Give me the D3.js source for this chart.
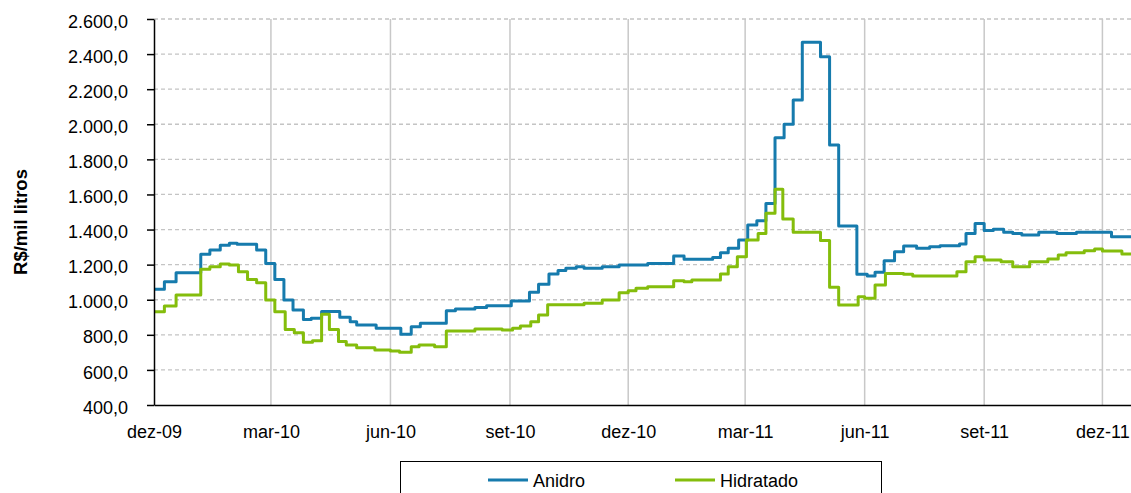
<!DOCTYPE html>
<html lang="pt">
<head>
<meta charset="UTF-8">
<title>Anidro x Hidratado</title>
<script src="https://d3js.org/d3.v7.min.js"></script>
<style>
  body { margin: 0; background: #fff; }
  svg { display: block; font-family: "Liberation Sans", Arial, sans-serif; }
  .tick text { font-size: 18px; fill: #000; }
</style>
</head>
<body>
<svg width="1131" height="493"></svg>
<script>
// step changes: [date, R$/mil litros]
const anidro = [
  ["2009-12-01", 1060], ["2009-12-09", 1103], ["2009-12-18", 1154], ["2010-01-06", 1259],
  ["2010-01-13", 1283], ["2010-01-21", 1310], ["2010-01-28", 1322], ["2010-02-03", 1316],
  ["2010-02-18", 1283], ["2010-02-25", 1207], ["2010-03-04", 1116], ["2010-03-11", 998],
  ["2010-03-18", 941], ["2010-03-26", 888], ["2010-04-01", 894], ["2010-04-09", 933],
  ["2010-04-23", 900], ["2010-05-01", 875], ["2010-05-06", 856], ["2010-05-21", 837],
  ["2010-06-09", 803], ["2010-06-17", 846], ["2010-06-24", 866], ["2010-07-14", 937],
  ["2010-07-21", 947], ["2010-08-05", 955], ["2010-08-14", 966], ["2010-09-02", 993],
  ["2010-09-16", 1042], ["2010-09-23", 1088], ["2010-10-01", 1147], ["2010-10-08", 1167],
  ["2010-10-14", 1179], ["2010-10-22", 1188], ["2010-10-28", 1179], ["2010-11-11", 1188],
  ["2010-11-24", 1198], ["2010-12-16", 1207], ["2011-01-05", 1249], ["2011-01-13", 1230],
  ["2011-02-04", 1240], ["2011-02-10", 1268], ["2011-02-16", 1293], ["2011-02-24", 1340],
  ["2011-03-03", 1426], ["2011-03-10", 1450], ["2011-03-17", 1549], ["2011-03-24", 1923],
  ["2011-03-31", 2000], ["2011-04-07", 2138], ["2011-04-14", 2467], ["2011-04-28", 2385],
  ["2011-05-05", 1882], ["2011-05-12", 1420], ["2011-05-26", 1145], ["2011-06-03", 1135],
  ["2011-06-09", 1156], ["2011-06-16", 1222], ["2011-06-24", 1274], ["2011-07-01", 1306],
  ["2011-07-11", 1293], ["2011-07-21", 1302], ["2011-07-29", 1308], ["2011-08-13", 1318],
  ["2011-08-18", 1378], ["2011-08-25", 1435], ["2011-09-01", 1394], ["2011-09-08", 1401],
  ["2011-09-16", 1384], ["2011-09-23", 1378], ["2011-09-30", 1369], ["2011-10-13", 1384],
  ["2011-10-27", 1378], ["2011-11-11", 1384], ["2011-12-08", 1359], ["2011-12-23", 1355]
];

const hidratado = [
  ["2009-12-01", 932], ["2009-12-09", 964], ["2009-12-18", 1027], ["2010-01-06", 1173],
  ["2010-01-13", 1188], ["2010-01-21", 1204], ["2010-01-28", 1198], ["2010-02-04", 1160],
  ["2010-02-11", 1116], ["2010-02-18", 1097], ["2010-02-25", 998], ["2010-03-04", 932],
  ["2010-03-12", 831], ["2010-03-19", 812], ["2010-03-26", 757], ["2010-04-02", 766],
  ["2010-04-09", 917], ["2010-04-15", 831], ["2010-04-22", 762], ["2010-04-28", 742],
  ["2010-05-06", 727], ["2010-05-20", 713], ["2010-06-01", 708], ["2010-06-08", 700],
  ["2010-06-17", 732], ["2010-06-23", 742], ["2010-07-05", 732], ["2010-07-14", 822],
  ["2010-08-05", 833], ["2010-08-26", 827], ["2010-09-03", 837], ["2010-09-09", 850],
  ["2010-09-17", 875], ["2010-09-23", 913], ["2010-09-30", 972], ["2010-10-28", 980],
  ["2010-11-11", 998], ["2010-11-24", 1040], ["2010-12-01", 1051], ["2010-12-07", 1065],
  ["2010-12-16", 1074], ["2011-01-05", 1108], ["2011-01-13", 1103], ["2011-01-19", 1112],
  ["2011-02-10", 1147], ["2011-02-16", 1188], ["2011-02-23", 1245], ["2011-03-02", 1340],
  ["2011-03-11", 1378], ["2011-03-17", 1493], ["2011-03-24", 1629], ["2011-03-30", 1460],
  ["2011-04-07", 1384], ["2011-04-28", 1337], ["2011-05-05", 1071], ["2011-05-12", 970],
  ["2011-05-27", 1017], ["2011-06-01", 1008], ["2011-06-09", 1084], ["2011-06-17", 1150],
  ["2011-07-01", 1145], ["2011-07-08", 1135], ["2011-08-11", 1160], ["2011-08-18", 1217],
  ["2011-08-25", 1245], ["2011-09-01", 1226], ["2011-09-14", 1217], ["2011-09-23", 1188],
  ["2011-10-06", 1217], ["2011-10-20", 1232], ["2011-10-28", 1255], ["2011-11-03", 1268],
  ["2011-11-17", 1279], ["2011-11-25", 1289], ["2011-12-01", 1278], ["2011-12-16", 1260],
  ["2011-12-23", 1260]
];

const tickDates = ["2009-12-01", "2010-03-01", "2010-06-01", "2010-09-01", "2010-12-01",
                   "2011-03-01", "2011-06-01", "2011-09-01", "2011-12-01"];
const tickLabels = ["dez-09", "mar-10", "jun-10", "set-10", "dez-10",
                    "mar-11", "jun-11", "set-11", "dez-11"];
const yTicks = [400, 600, 800, 1000, 1200, 1400, 1600, 1800, 2000, 2200, 2400, 2600];

const seriesNames = ["Anidro", "Hidratado"];
const colors = ["#167bad", "#84bd0c"];

const parse = d3.timeParse("%Y-%m-%d");
const plot = { left: 154, right: 1131, top: 19, bottom: 405 };

const x = d3.scaleTime()
    .domain([parse("2009-12-01"), parse("2011-12-23")])
    .range([plot.left, plot.right]);
const y = d3.scaleLinear().domain([400, 2600]).range([plot.bottom, plot.top]);

const ptBR = d3.formatLocale({ decimal: ",", thousands: ".", grouping: [3], currency: ["R$", ""] });
const fmt = ptBR.format(",.1f");

const svg = d3.select("svg");

svg.append("defs").append("clipPath").attr("id", "plotclip")
  .append("rect").attr("x", plot.left).attr("y", plot.top - 5)
  .attr("width", plot.right - plot.left).attr("height", plot.bottom - plot.top + 5);

// horizontal dashed grid
svg.append("g").selectAll("line")
  .data(yTicks.slice(1))
  .join("line")
  .attr("x1", plot.left).attr("x2", plot.right)
  .attr("y1", d => y(d)).attr("y2", d => y(d))
  .attr("stroke", "#c4c4c4").attr("stroke-width", 1.3)
  .attr("stroke-dasharray", "4,3");

// vertical solid grid
svg.append("g").selectAll("line")
  .data(tickDates.slice(1))
  .join("line")
  .attr("x1", d => x(parse(d))).attr("x2", d => x(parse(d)))
  .attr("y1", plot.top).attr("y2", plot.bottom)
  .attr("stroke", "#c8c8c8").attr("stroke-width", 1.5);

// lines
const line = d3.line()
    .x(d => x(parse(d[0])))
    .y(d => y(d[1]))
    .curve(d3.curveStepAfter);

[anidro, hidratado].forEach((s, i) => {
  svg.append("path")
    .datum(s)
    .attr("clip-path", "url(#plotclip)")
    .attr("fill", "none")
    .attr("stroke", colors[i])
    .attr("stroke-width", 3)
    .attr("stroke-linejoin", "round")
    .attr("d", line);
});

// axes
const yAxis = d3.axisLeft(y).tickValues(yTicks).tickFormat(fmt)
    .tickSize(7).tickPadding(19).tickSizeOuter(0);
const gy = svg.append("g").attr("transform", `translate(${plot.left},0)`).call(yAxis);
gy.selectAll(".tick text").attr("dy", "0.45em");
gy.selectAll("line, path").attr("stroke", "#000").attr("stroke-width", 1.5);

const xAxis = d3.axisBottom(x)
    .tickValues(tickDates.map(parse))
    .tickFormat((d, i) => tickLabels[i])
    .tickSize(0).tickPadding(20).tickSizeOuter(0);
const gx = svg.append("g").attr("transform", `translate(0,${plot.bottom})`).call(xAxis);
gx.select(".domain").attr("stroke", "#000").attr("stroke-width", 1.5);
gx.selectAll(".tick text").attr("dy", "0.71em").attr("y", 20);

// y axis title
svg.append("text")
  .attr("transform", "rotate(-90)")
  .attr("x", -222).attr("y", 27)
  .attr("text-anchor", "middle")
  .attr("font-size", 18.5).attr("font-weight", "bold")
  .text("R$/mil litros");

// legend
const lg = svg.append("g");
lg.append("rect")
  .attr("x", 400.5).attr("y", 461.5).attr("width", 481).attr("height", 40)
  .attr("fill", "#fff").attr("stroke", "#000").attr("stroke-width", 1);
const lx = [488, 675];
seriesNames.forEach((n, i) => {
  lg.append("line")
    .attr("x1", lx[i]).attr("x2", lx[i] + 40)
    .attr("y1", 480).attr("y2", 480)
    .attr("stroke", colors[i]).attr("stroke-width", 3);
  lg.append("text")
    .attr("x", lx[i] + 45).attr("y", 486.5)
    .attr("font-size", 18)
    .text(n);
});
</script>
</body>
</html>
